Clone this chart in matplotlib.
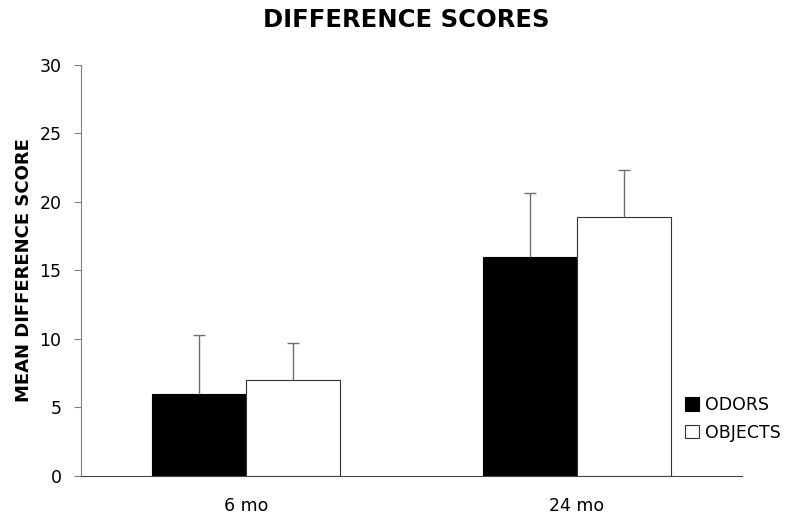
import matplotlib
matplotlib.use("Agg")
import matplotlib.pyplot as plt
import numpy as np

categories = ["6 mo", "24 mo"]
odors = [6.0, 16.0]
odors_err = [4.25, 4.63]
objects = [7.0, 18.9]
objects_err = [2.7, 3.45]
yticks = [0, 5, 10, 15, 20, 25, 30]

plt.rcParams['font.family'] = ['DejaVu Sans']

fig = plt.figure(figsize=(7.99, 5.25), dpi=100)
ax = fig.add_axes([81/799, 1-475.7/525, (742-81)/799, (475.7-65)/525])

x = np.arange(len(categories))
w = 0.285
gray = '#808080'
ekw = dict(ecolor='#707070', elinewidth=1.0, capsize=4, capthick=1.0)
b1 = ax.bar(x - w/2, odors, w, color='black', edgecolor='black', linewidth=0.8, label='ODORS',
            yerr=[np.zeros(2), odors_err], error_kw=ekw)
b2 = ax.bar(x + w/2, objects, w, color='white', edgecolor='#333333', linewidth=0.8, label='OBJECTS',
            yerr=[np.zeros(2), objects_err], error_kw=ekw)
for b in (b1, b2):
    caps = b.errorbar.lines[1]
    if len(caps) >= 2:
        caps[0].set_visible(False)

ax.set_xlim(-0.5, 1.5)
ax.set_ylim(0, 30)
ax.set_yticks(yticks)
ax.set_xticks(x)
ax.set_xticklabels(categories, fontsize=12.5)
ax.tick_params(axis='x', length=0, pad=15)
ax.tick_params(axis='y', length=5, color=gray, labelsize=12.5, pad=9)
for s in ['top', 'right']:
    ax.spines[s].set_visible(False)
ax.spines['left'].set_color(gray)
ax.spines['bottom'].set_color('#444444')
ax.set_ylabel('MEAN DIFFERENCE SCORE', fontsize=13, fontweight='bold', labelpad=5)

fig.suptitle('DIFFERENCE SCORES', fontsize=17.5, fontweight='bold', x=0.508, y=0.985)

handles, labels = ax.get_legend_handles_labels()
leg = fig.legend(handles, labels, loc='upper left', bbox_to_anchor=(685/799, 1-396/525),
                 frameon=False, fontsize=12.5, handlelength=0.8, handleheight=0.8,
                 handletextpad=0.35, borderpad=0, labelspacing=0.55, borderaxespad=0)

fig.savefig('out.png', dpi=100)
